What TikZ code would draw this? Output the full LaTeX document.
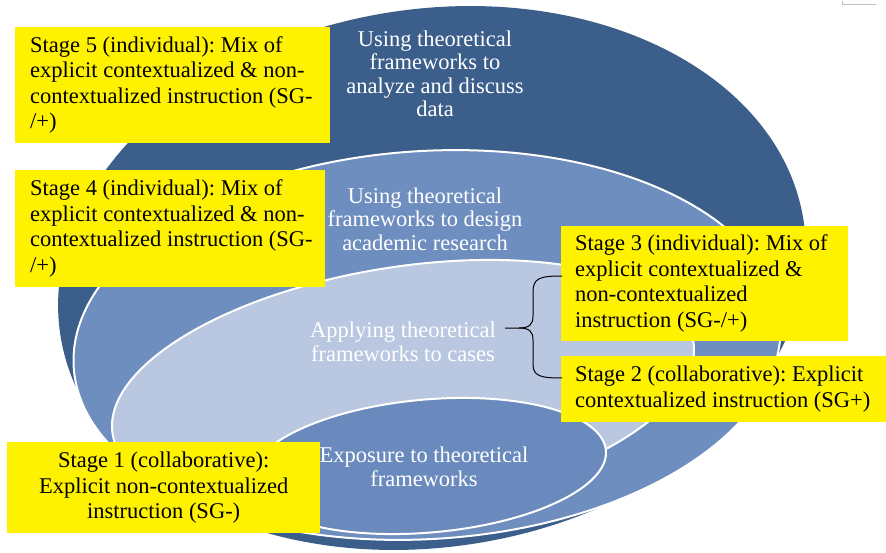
\documentclass[tikz,border=0pt]{standalone}
\usepackage{fontspec}
\setmainfont{Liberation Serif}
\usetikzlibrary{shapes,arrows,calc,positioning}

\definecolor{ringdark}{RGB}{59,94,139}
\definecolor{ringmid}{RGB}{110,142,191}
\definecolor{ringlight}{RGB}{185,199,225}
\definecolor{ringcore}{RGB}{106,138,190}
\newcommand{\boxfont}{\frenchspacing\fontsize{22.5}{25.5}\selectfont}
\newcommand{\ringfont}{\frenchspacing\fontsize{22.5}{23.5}\selectfont}

\tikzset{
  ring/.style={draw=white, line width=2pt},
  ringlabel/.style={text=white, align=center, font=\ringfont, inner sep=0pt},
  stagebox/.style={fill=yellow, inner sep=0pt, anchor=north west},
  stagetext/.style={font=\boxfont, inner sep=0pt, align=left},
}

\begin{document}
\begin{tikzpicture}[y=1pt, x=1pt, yscale=-1]
\useasboundingbox (0,0) rectangle (886,553);
\begin{scope}
  % nested rings
  \path[fill=ringdark,rotate around={-8.7:(432,278)}]
    (432,278) ellipse [x radius=376, y radius=269];
  \path[ring,fill=ringmid,rotate around={-3.6:(427,345)}]
    (427,345) ellipse [x radius=354, y radius=194];
  \path[ring,fill=ringlight,rotate around={-9:(403,388)}]
    (403,388) ellipse [x radius=294, y radius=121];
  \path[ring,fill=ringcore,rotate around={-5:(428,466)}]
    (428,466) ellipse [x radius=178.6, y radius=66.5];

  \node[ringlabel] (analyze) at (435,74)
    {Using theoretical\\frameworks to\\analyze and discuss\\data};
  \node[ringlabel] (design) at (425,219)
    {Using theoretical\\frameworks to design\\academic research};
  \node[ringlabel] (cases) at (403,342)
    {Applying theoretical\\frameworks to cases};
  \node[ringlabel] (exposure) at (424,467)
    {Exposure to theoretical\\frameworks};

  % stage boxes
  \node[stagebox, minimum width=315pt, minimum height=116pt] (stage5) at (15,27) {};
  \node[stagetext, right=15pt of stage5.west] (stage5txt)
    {Stage 5 (individual): Mix of\\explicit contextualized \& non-\\contextualized instruction (SG-\\/+)};
  \node[stagebox, minimum width=310pt, minimum height=117pt] (stage4) at (15,170) {};
  \node[stagetext, right=15pt of stage4.west] (stage4txt)
    {Stage 4 (individual): Mix of\\explicit contextualized \& non-\\contextualized instruction (SG-\\/+)};
  \node[stagebox, minimum width=287pt, minimum height=115pt] (stage3) at (561,226) {};
  \node[stagetext, right=14pt of stage3.west] (stage3txt)
    {Stage 3 (individual): Mix of\\explicit contextualized \&\\non-contextualized\\instruction (SG-/+)};
  \node[stagebox, minimum width=325pt, minimum height=66pt] (stage2) at (561,356) {};
  \node[stagetext, right=14pt of stage2.west] (stage2txt)
    {Stage 2 (collaborative): Explicit\\contextualized instruction (SG+)};
  \node[stagebox, minimum width=313pt, minimum height=91pt] (stage1) at (7,442) {};
  \node[stagetext, align=center] (stage1txt) at (stage1.center)
    {Stage 1 (collaborative):\\Explicit non-contextualized\\instruction (SG-)};

  % brace from the cases ring to stages 3 and 2
  \coordinate (brtop) at (562,276);
  \coordinate (brbot) at (562,378);
  \coordinate (brtip) at (505,328);
  \path[draw=black,line width=1pt]
    (brtop) .. controls (540,276) and (533,278) .. (533,292) -- (533,316)
    .. controls (533,325) and (529,328) .. (519,328) -- (brtip);
  \path[draw=black,line width=1pt]
    (519,328) .. controls (529,328) and (533,331) .. (533,340) -- (533,364)
    .. controls (533,376) and (540,378) .. (brbot);

  % corner mark
  \path[draw=black!25,line width=1pt] (842,1) -- (842,5) -- (876,5);
\end{scope}
\end{tikzpicture}
\end{document}
